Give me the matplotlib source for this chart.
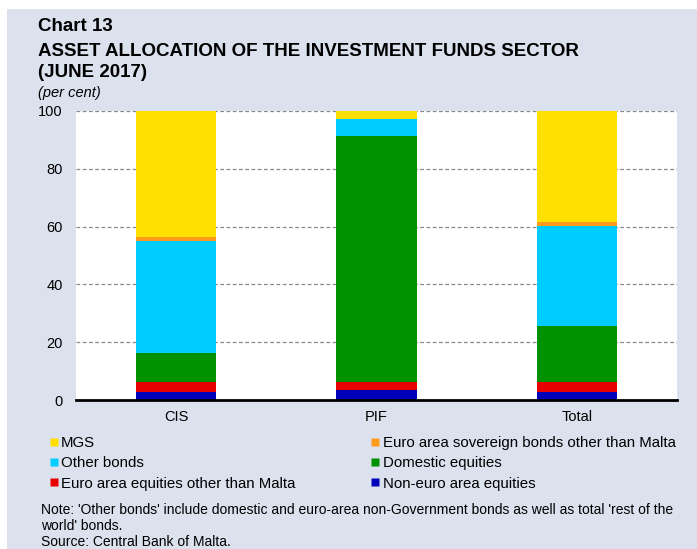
import matplotlib.pyplot as plt
from matplotlib.lines import Line2D
from matplotlib.patches import Rectangle

plt.rcParams['font.family'] = ['Liberation Sans', 'DejaVu Sans']

# data (per cent)
funds = ['CIS', 'PIF', 'Total']
non_euro_eq = [2.7, 3.6, 2.7]
euro_eq = [3.7, 2.8, 3.7]
domestic_eq = [9.7, 85.0, 19.1]
other_bonds = [38.9, 5.8, 34.8]
euro_sov = [1.4, 0.0, 1.2]
mgs = [43.6, 2.8, 38.5]

W, H = 697, 549
fig = plt.figure(figsize=(W / 100, H / 100), dpi=100)
fig.patch.set_facecolor('white')
bg = '#DCE1EE'
fig.patches.append(Rectangle((7 / W, 0), 1, 1 - 9 / H, transform=fig.transFigure,
                             facecolor=bg, edgecolor='none', zorder=-10))

ax = fig.add_axes([76 / W, (H - 400) / H, (677 - 76) / W, (400 - 111) / H])
ax.set_facecolor('white')

series = [
    (non_euro_eq, '#0000BB', 'Non-euro area equities'),
    (euro_eq, '#E80000', 'Euro area equities other than Malta'),
    (domestic_eq, '#009100', 'Domestic equities'),
    (other_bonds, '#00CCFF', 'Other bonds'),
    (euro_sov, '#FF9A1A', 'Euro area sovereign bonds other than Malta'),
    (mgs, '#FFE000', 'MGS'),
]
x = range(len(funds))
bottom = [0.0] * len(funds)
colors = {}
for vals, col, lab in series:
    ax.bar(x, vals, 0.4, bottom=bottom, color=col, linewidth=0, zorder=3)
    bottom = [b + v for b, v in zip(bottom, vals)]
    colors[lab] = col

ax.set_xlim(-0.5, 2.5)
ax.set_ylim(0, 100)
ax.set_yticks(range(0, 101, 20))
ax.set_xticks(list(x))
ax.set_xticklabels(funds)
ax.tick_params(length=0, labelsize=10.5, colors='black')
ax.tick_params(axis='y', pad=9.5)
ax.tick_params(axis='x', pad=7)
ax.grid(axis='y', color='#888888', linestyle=(0, (3, 2)), linewidth=0.9, zorder=1)
for s in ['left', 'right', 'top']:
    ax.spines[s].set_visible(False)
ax.spines['bottom'].set_linewidth(2)
ax.spines['bottom'].set_zorder(5)

# legend, two columns
def make_legend(labels, xpos):
    handles = [Line2D([], [], marker='s', linestyle='none', markersize=5.5,
                      markerfacecolor=colors[l], markeredgecolor='none') for l in labels]
    leg = fig.legend(handles, labels, loc='upper left', bbox_to_anchor=(xpos / W, 1 - 436 / H),
                     frameon=False, fontsize=10.8, handlelength=0.6, handletextpad=0.2,
                     labelspacing=0.42, borderaxespad=0, borderpad=0)
    return leg

make_legend(['MGS', 'Other bonds', 'Euro area equities other than Malta'], 49)
make_legend(['Euro area sovereign bonds other than Malta', 'Domestic equities',
             'Non-euro area equities'], 371)

# titles
fig.text(38 / W, 1 - 31 / H, 'Chart 13', fontsize=13.5, fontweight='bold')
fig.text(38 / W, 1 - 56 / H, 'ASSET ALLOCATION OF THE INVESTMENT FUNDS SECTOR',
         fontsize=13.5, fontweight='bold')
fig.text(38 / W, 1 - 77 / H, '(JUNE 2017)', fontsize=13.5, fontweight='bold')
fig.text(38 / W, 1 - 97 / H, '(per cent)', fontsize=10.5, style='italic')

# notes
fig.text(41 / W, 1 - 514 / H, "Note: 'Other bonds' include domestic and euro-area non-Government bonds "
         "as well as total 'rest of the", fontsize=10)
fig.text(41 / W, 1 - 530 / H, "world' bonds.", fontsize=10)
fig.text(41 / W, 1 - 546 / H, "Source: Central Bank of Malta.", fontsize=10)

fig.savefig('out.png', dpi=100)
